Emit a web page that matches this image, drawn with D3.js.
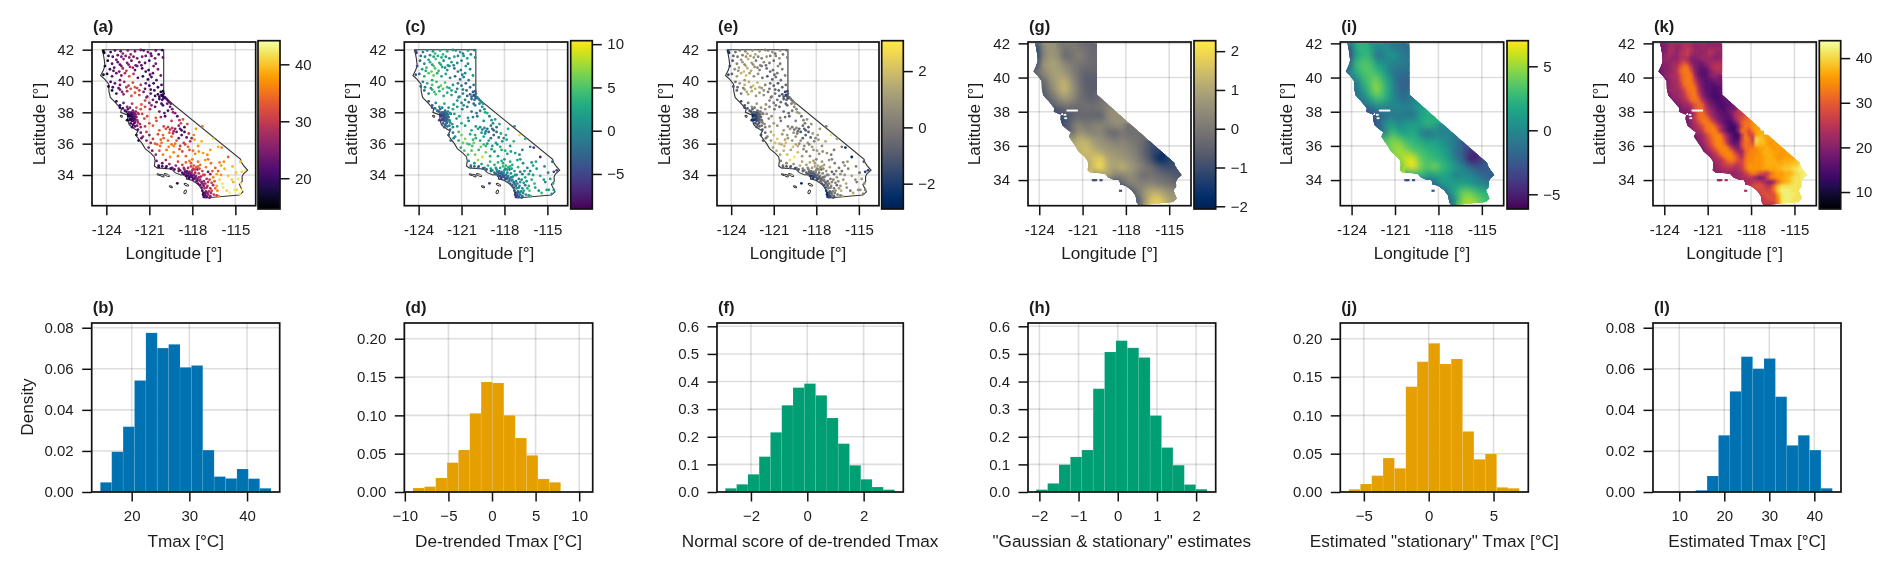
<!DOCTYPE html>
<html>
<head>
<meta charset="utf-8">
<script src="https://cdn.jsdelivr.net/npm/d3@7/dist/d3.min.js"></script>
<style>
html,body{margin:0;padding:0;background:#fff;}
svg{display:block;filter:blur(0.4px);}
text{font-family:"Liberation Sans",Arial,sans-serif;fill:#1c1c1c;}
</style>
</head>
<body>
<svg id="chart" width="1892" height="569"></svg>
<script>
// ---------- California outline (lon, lat) ----------
const outlineLon = [-124.3,-120,-120,-114.63,-114.6,-114.42,-114.14,-114.43,-114.53,-114.52,-114.72,-114.52,-114.47,-114.72,-117.12,-117.25,-117.28,-117.33,-117.6,-118.0,-118.25,-118.41,-118.4,-118.52,-118.8,-119.2,-119.45,-119.7,-120.47,-120.65,-120.6,-120.65,-120.9,-121.28,-121.5,-121.95,-121.8,-122.05,-122.4,-122.52,-122.5,-122.37,-122.1,-122.3,-122.4,-122.15,-122.45,-122.52,-123.0,-122.95,-123.4,-123.72,-123.82,-123.83,-124.1,-124.4,-124.2,-124.1,-124.15,-124.22,-124.3];
const outlineLat = [42,42,39,35,34.85,34.6,34.3,34.08,33.9,33.6,33.4,33.03,32.92,32.72,32.53,32.68,32.85,33.1,33.4,33.65,33.72,33.74,33.85,34.03,34.0,34.15,34.37,34.4,34.45,34.58,34.9,35.15,35.4,35.67,36.0,36.55,36.8,36.95,37.2,37.55,37.78,37.8,37.5,37.75,38.0,38.05,37.95,37.83,38.0,38.2,38.65,38.95,39.35,39.8,40.1,40.35,40.7,41.0,41.4,41.75,42];
const islandLon = [-120.37,-120.1,-119.78,-119.5,-118.42,-118.5,-122.95];
const islandLat = [34.03,33.96,34.0,33.25,33.38,32.92,37.75];
const islandRx = [0.1,0.14,0.2,0.12,0.17,0.08,0.08];
const islandRy = [0.04,0.06,0.06,0.05,0.06,0.12,0.05];

// ---------- Stations ----------
const stationLon = [
-124.2,-124.15,-123.7,-123.4,-123.0,-122.85,-122.5,-122.3,-122.0,-121.6,
-121.4,-121.1,-120.85,-120.55,-120.35,-120.1,-120.05,-120.6,-121.0,-121.5,
-123.9,-123.6,-123.3,-123.05,-122.8,-122.55,-122.25,-121.95,-121.7,-121.3,
-124.1,-123.75,-123.45,-123.1,-122.85,-122.6,-122.35,-122.0,-121.5,-120.7,
-121.05,-120.75,-120.4,-120.2,-123.95,-123.6,-123.3,-122.95,-122.7,-122.4,
-122.1,-121.8,-121.45,-121.1,-120.85,-120.5,-124.2,-123.7,-123.4,-123.05,
-122.75,-122.45,-122.15,-121.85,-121.6,-121.3,-121.0,-120.7,-120.4,-120.15,
-123.6,-123.3,-123.05,-122.8,-122.55,-122.25,-122.0,-121.7,-121.4,-121.15,
-120.9,-120.65,-120.4,-120.2,-120.1,-120.05,-120.0,-120.15,-120.02,-119.9,
-119.8,-119.7,-119.6,-119.5,-120.3,-120.5,-120.75,-121.0,-121.3,-121.55,
-123.3,-123.05,-122.8,-122.55,-122.2,-121.9,-121.6,-121.3,-120.95,-120.6,
-122.6,-122.5,-122.4,-122.3,-122.25,-122.2,-122.15,-122.1,-122.05,-122.0,
-122.45,-122.35,-122.2,-122.1,-122.0,-121.95,-121.9,-121.85,-121.8,-121.75,
-122.3,-122.15,-122.0,-122.55,-122.4,-122.15,-121.95,-122.05,-121.85,-121.65,
-121.8,-121.6,-121.9,-121.45,-121.2,-121.0,-120.75,-120.5,-120.2,-119.95,
-120.3,-119.9,-119.7,-119.4,-119.2,-119.05,-118.9,-118.8,-118.95,-118.65,
-120.0,-119.85,-119.7,-119.55,-119.4,-119.3,-119.2,-119.1,-119.6,-119.35,
-121.0,-120.75,-120.4,-120.2,-120.6,-120.9,-121.2,-121.05,-120.25,-120.0,
-119.7,-119.45,-119.2,-118.95,-118.75,-118.55,-118.4,-118.15,-118.6,-118.3,
-117.9,-117.6,-117.35,-116.95,-116.55,-116.2,-115.95,-115.5,-117.75,-117.3,
-120.3,-120.05,-119.8,-119.55,-119.3,-119.0,-118.7,-118.45,-120.55,-119.85,
-120.5,-120.35,-120.1,-119.8,-119.6,-119.4,-119.15,-118.95,-118.7,-118.45,
-118.85,-118.7,-118.55,-118.4,-118.3,-118.2,-118.1,-118.0,-117.9,-117.8,
-118.6,-118.45,-118.3,-118.2,-118.1,-118.0,-117.9,-117.85,-117.75,-117.7,
-117.65,-117.55,-117.45,-117.4,-117.3,-117.2,-117.15,-117.05,-117.0,-116.9,
-117.6,-117.5,-117.35,-117.3,-117.25,-117.2,-117.15,-117.1,-117.05,-116.95,
-117.2,-117.05,-116.9,-116.75,-116.65,-116.5,-116.4,-116.85,-116.55,-116.25,
-116.8,-116.55,-116.3,-116.1,-115.85,-115.6,-115.4,-115.15,-114.9,-114.55,
-116.4,-116.2,-116.0,-115.75,-115.5,-115.25,-114.95,-114.7,-114.35,-114.65,
-116.9,-117.8,-118.0,-118.2,-119.0,-119.3,-118.85,-120.05,-120.55,-119.05,
-123.85,-123.55,-123.2,-122.95,-122.65,-122.4,-122.1,-121.85,-121.25,-120.9,
-123.5,-123.2,-122.95,-122.45,-122.15,-121.85,-121.55,-121.25,-120.95,-120.55,
-123.85,-123.55,-123.15,-122.9,-122.6,-122.3,-122.0,-121.7,-121.25,-120.9,
-120.6,-120.3,-120.1,-120.0,-119.75,-119.55,-119.35,-121.2,-120.85,-120.15,
-123.05,-122.85,-122.7,-122.5,-122.35,-122.1,-121.8,-121.5,-121.35,-121.15,
-122.45,-122.28,-122.18,-122.08,-121.98,-122.38,-122.28,-122.22,-122.12,-122.02,
-121.6,-121.3,-121.55,-121.75,-122.2,-120.3,-120.05,-120.45,-120.8,-119.45,
-118.75,-118.55,-118.25,-118.05,-118.35,-118.85,-118.2,-117.95,-117.55,-117.25,
-120.35,-120.1,-119.85,-119.5,-119.25,-118.95,-118.6,-118.1,-117.6,-117.1,
-118.5,-118.38,-118.28,-118.15,-118.05,-117.95,-117.82,-117.72,-117.6,-117.5,
-118.25,-118.12,-118.02,-117.95,-117.8,-117.65,-117.55,-117.45,-117.35,-117.25,
-117.45,-117.35,-117.2,-117.1,-117.0,-116.9,-116.75,-116.65,-116.45,-116.3,
-117.25,-117.1,-117.0,-116.95,-116.8,-116.7,-116.3,-116.15,-116.6,-116.75,
-116.7,-116.1,-115.8,-115.2,-115.05,-114.8,-114.6,-114.55,-116.95,-116.0,
-118.9,-119.45,-119.1,-120.15,-119.65,-118.5,-117.85,-116.75,-115.9,-123.05];
const stationLat = [
41.9,41.8,41.85,41.95,41.9,41.75,41.95,41.7,41.9,41.98,
41.95,41.85,41.6,41.95,41.7,41.97,41.5,41.45,41.3,41.55,
41.3,41.1,41.35,41.05,41.4,41.15,41.3,41.0,41.2,41.15,
40.95,40.75,40.85,40.6,40.8,40.65,40.9,40.7,40.8,40.95,
40.7,40.5,40.75,40.35,40.45,40.3,40.5,40.35,40.5,40.3,
40.45,40.2,40.3,40.1,40.25,40.05,40.4,39.95,39.85,39.75,
39.95,39.7,39.9,39.55,39.75,39.5,39.7,39.85,39.6,39.75,
39.4,39.2,39.45,39.15,39.35,39.05,39.25,39.1,39.3,39.0,
39.2,39.4,39.15,39.3,39.05,39.35,39.2,39.1,39.0,38.95,
38.85,38.75,38.65,38.55,38.85,38.65,38.8,38.6,38.75,38.5,
38.7,38.45,38.6,38.35,38.55,38.3,38.2,38.35,38.2,38.35,
38.05,37.9,38.0,37.85,37.95,37.75,37.85,37.65,37.75,37.55,
37.75,37.6,37.45,37.45,37.4,37.85,37.7,37.5,37.35,37.9,
37.3,37.2,37.1,37.5,37.95,38.1,38.05,37.3,37.15,37.25,
36.9,36.7,36.55,36.45,36.75,37.3,37.15,37.45,37.7,37.95,
38.05,37.75,38.1,38.2,37.95,37.75,37.5,37.3,37.15,37.55,
37.1,36.95,37.05,36.9,37.0,36.8,36.95,36.75,36.7,36.65,
36.55,36.3,36.6,36.25,36.0,36.05,36.2,35.75,35.85,36.35,
36.2,36.45,36.0,36.35,36.55,36.75,36.4,36.15,36.05,35.8,
36.55,35.85,36.15,36.55,36.3,35.8,35.75,35.15,36.95,37.1,
35.55,35.3,35.6,35.15,35.45,35.2,35.5,35.2,35.3,34.95,
34.9,34.6,34.75,34.55,34.7,34.45,34.6,34.4,34.65,34.8,
34.3,34.15,34.35,34.1,34.45,34.2,34.55,34.3,34.6,34.15,
34.05,33.95,33.95,33.85,34.05,33.85,34.0,33.75,33.95,33.6,
34.35,34.1,34.65,33.9,34.25,33.6,34.0,34.5,33.75,34.2,
33.45,33.65,33.2,33.0,33.4,32.85,33.15,32.7,32.95,33.3,
32.6,32.65,32.75,32.65,33.0,32.75,33.15,32.95,33.35,33.0,
33.7,33.85,34.05,33.7,33.2,33.0,32.85,33.55,33.05,34.2,
34.45,34.25,34.0,34.4,33.95,33.7,34.15,32.8,34.3,34.85,
35.0,35.35,35.0,34.9,34.85,35.85,35.85,38.45,37.65,33.47,
41.6,41.55,41.65,41.55,41.6,41.5,41.55,41.45,41.6,41.75,
40.65,41.2,40.95,41.05,40.85,40.95,41.0,40.6,40.4,41.1,
39.65,39.6,39.55,39.3,39.6,39.5,39.6,39.4,39.85,39.45,
39.05,39.0,38.8,38.9,38.55,38.35,38.0,38.95,38.45,38.55,
38.3,38.25,38.1,38.2,38.3,38.0,37.95,37.9,37.6,37.75,
37.8,37.78,37.6,37.55,37.68,37.5,37.55,37.9,37.95,37.88,
37.05,37.1,36.35,36.2,37.05,36.85,36.55,35.95,35.55,37.45,
36.85,37.05,36.65,36.35,37.25,36.95,35.6,35.55,35.5,35.4,
34.5,34.55,34.45,34.42,34.35,34.25,34.45,34.75,34.85,34.95,
34.2,34.25,34.1,34.05,34.15,34.4,34.35,34.5,34.55,34.4,
33.8,33.95,33.95,33.72,33.85,33.75,33.85,33.7,33.55,34.0,
33.35,33.5,33.3,33.45,33.2,33.55,33.15,33.5,33.6,33.3,
32.75,32.85,32.6,32.85,32.55,32.85,32.7,32.65,34.25,34.05,
34.75,34.8,34.85,34.55,33.05,33.75,33.45,33.05,35.3,34.6,
35.65,35.95,36.2,36.05,35.8,35.95,36.25,35.6,33.45,40.05];
const stationTmax = [
16,16,20,22,23,26,24,27,25,23,
21,24,22,23,22,20,23,24,21,25,
18,22,23,21,26,25,22,23,24,22,
17,21,22,24,27,30,28,22,20,23,
19,22,25,24,18,22,23,25,28,32,
29,22,19,19,21,22,17,20,22,24,
26,30,32,31,29,22,20,19,20,21,
18,21,23,26,29,32,33,31,25,22,
23,21,19,18,19,18,20,17,19,21,
22,20,23,24,20,22,24,27,31,33,
19,20,24,26,30,32,33,31,28,22,
20,18,21,19,22,20,23,21,23,24,
18,19,20,22,24,27,26,27,28,29,
20,21,22,17,23,24,25,22,25,28,
22,24,20,26,30,32,33,32,27,23,
24,21,22,24,25,22,29,31,27,33,
31,32,30,28,31,27,25,23,33,29,
26,30,32,34,33,28,25,26,35,34,
34,33,35,24,21,20,22,28,30,34,
36,37,39,44,42,39,36,34,38,35,
33,36,35,37,36,35,32,34,27,28,
24,22,23,21,26,24,27,25,31,34,
23,21,26,22,28,24,31,27,33,28,
20,19,20,21,24,22,25,23,27,22,
26,30,35,28,31,26,30,36,29,24,
22,25,23,21,26,20,27,22,25,29,
21,23,27,26,31,30,34,29,28,36,
31,36,38,41,42,41,43,39,41,41,
34,33,37,39,40,41,40,42,43,40,
35,36,36,35,32,36,31,21,33,18,
20,22,23,24,25,26,24,24,23,22,
22,23,24,25,26,23,22,21,22,24,
18,21,23,26,29,32,33,30,23,21,
20,19,21,20,23,24,26,26,26,20,
19,20,21,23,25,28,29,31,31,32,
17,18,20,21,23,18,19,21,22,24,
28,30,23,19,20,33,34,34,24,30,
20,21,30,27,32,23,33,35,37,38,
20,20,21,20,22,23,27,33,35,37,
22,23,22,24,26,29,31,33,34,32,
20,22,22,21,23,24,27,28,25,31,
23,25,26,27,28,29,28,30,33,38,
20,23,22,26,24,28,30,36,33,26,
35,36,37,39,42,42,42,42,36,38,
33,35,33,35,36,31,38,38,42,24];
const stationDetrended = [
-5,-6,-1,0,1,4,2,4,3,1,
0,2,1,1,0,-1,1,2,-1,3,
-3,1,2,1,5,3,0,1,2,0,
-4,2,4,6,5,4,2,1,-1,1,
-1,0,1,1,-2,3,5,6,3,2,
2,-1,-3,-2,-1,-1,-4,-1,3,5,
4,6,5,2,1,-1,-2,-3,-2,-1,
-2,0,3,5,4,3,3,2,0,-1,
-1,-2,-3,-4,-3,-4,-2,-5,-3,-1,
0,-1,1,2,-3,-1,-1,0,1,2,
-4,-3,0,2,3,2,3,1,0,-2,
-4,-6,-3,-5,-3,-4,-2,-3,-2,-1,
-6,-5,-4,-3,-1,-1,-2,-1,0,0,
-4,-3,-2,-6,-2,-2,-1,-3,-1,1,
-3,-1,-4,1,4,3,2,0,-1,-2,
-1,-2,0,1,3,-1,1,0,-1,2,
1,2,0,-1,1,-1,-2,-3,2,0,
6,7,3,4,5,6,3,3,5,3,
3,2,1,-2,-3,-3,-2,1,2,3,
3,2,4,10,4,0,-6,-7,3,0,
5,6,4,9,6,3,1,2,4,8,
1,-1,1,-3,2,0,4,1,3,4,
0,-2,1,-3,3,-1,4,1,4,0,
-3,-5,-5,-4,-2,-3,-1,-3,0,-2,
-1,1,3,0,2,-1,1,4,0,-2,
-3,-1,-4,-5,-1,-7,0,-5,-2,1,
-6,-4,-1,-2,2,0,3,0,-1,5,
1,3,2,3,2,0,4,0,2,-5,
0,-1,2,1,3,2,-1,1,-5,-3,
1,2,1,3,4,4,2,-2,1,-6,
-2,0,1,2,3,3,1,1,0,-1,
2,3,5,2,1,0,-1,-1,-1,0,
-3,-1,1,4,3,5,4,2,-1,-2,
-2,-3,-2,-3,0,1,2,0,0,-2,
-4,-3,-3,-2,-1,0,1,2,1,2,
-6,-5,-4,-3,-2,-6,-5,-4,-3,-2,
1,2,0,-3,-3,3,3,4,5,1,
-3,-2,3,1,2,-2,3,3,2,2,
-2,-3,-2,-4,-3,-2,1,3,3,2,
-2,-1,-3,-2,0,1,2,3,4,2,
-5,-4,-3,-4,-3,-2,-1,0,-2,1,
-3,-1,-1,0,0,1,0,1,2,3,
-6,-3,-4,-1,-3,0,1,4,1,-1,
1,1,3,1,2,2,3,1,0,2,
2,4,2,6,6,1,3,0,4,3];
const stationNormalScore = [
-1.8,-2.2,-.4,0,.4,1.4,.7,1.4,1,.3,
0,.7,.3,.4,0,-.4,.3,.7,-.4,1,
-1.2,.3,.7,.3,1.7,1,0,.3,.7,0,
-1.6,.7,1.3,2,1.7,1.4,.7,.3,-.4,.4,
-.4,0,.4,.3,-.7,1,1.7,2,1,.7,
.7,-.4,-1.1,-.7,-.4,-.4,-1.5,-.4,1,1.7,
1.4,2,1.7,.7,.3,-.4,-.7,-1.1,-.7,-.4,
-.7,0,1,1.7,1.4,1,1,.7,0,-.4,
-.4,-.7,-1.1,-1.5,-1.1,-1.5,-.7,-1.8,-1.1,-.4,
0,-.4,.3,.7,-1,-.4,-.4,0,.3,.7,
-1.5,-1,0,.7,1,.7,1,.3,0,-.7,
-1.5,-2.1,-1.1,-1.8,-1,-1.5,-.7,-1.1,-.7,-.4,
-2.2,-1.8,-1.5,-1,-.4,-.4,-.7,-.4,0,0,
-1.5,-1,-.7,-2.3,-.7,-.7,-.4,-1,-.3,.3,
-1,-.4,-1.5,.3,1.3,1,.7,0,-.4,-.7,
-.4,-.7,0,.3,1,-.4,.3,0,-.4,.7,
.3,.7,0,-.4,.3,-.4,-.7,-1,.7,0,
2,2.4,1,1.4,1.7,2,1,1,1.7,1,
1,.7,.3,-.7,-1,-1,-.7,.3,.7,1,
1,.7,1.4,3,1.4,0,-2.2,-2.6,1,0,
1.7,2,1.4,2.9,2,1,.3,.7,1.4,2.7,
.3,-.4,.3,-1,.7,0,1.4,.3,1,1.4,
0,-.7,.3,-1,1,-.4,1.4,.3,1.4,0,
-1,-1.9,-1.9,-1.5,-.7,-1,-.4,-1,0,-.7,
-.4,.3,1,0,.7,-.4,.3,1.4,0,-.7,
-1.1,-.4,-1.5,-1.9,-.4,-2.6,0,-1.9,-.7,.3,
-2.2,-1.5,-.4,-.7,.7,0,1,0,-.4,1.7,
.3,1,.7,1,.7,0,1.4,0,.7,-2,
0,-.4,.7,.3,1,.7,-.4,.3,-2,-1,
.3,.7,.3,1,1.4,1.4,.7,-.7,.3,-2.5,
-.7,0,.3,.7,1,1,.3,.3,0,-.4,
.7,1,1.7,.7,.3,0,-.4,-.4,-.4,0,
-1.1,-.4,.3,1.4,1,1.7,1.4,.7,-.4,-.7,
-.7,-1.1,-.7,-1.1,0,.3,.7,0,0,-.7,
-1.5,-1,-1.1,-.7,-.4,0,.3,.7,.3,.7,
-2.3,-1.9,-1.5,-1,-.7,-2.2,-1.9,-1.5,-1,-.7,
.3,.7,0,-1,-1,1,1,1.4,1.7,.3,
-1,-.7,1,.3,.7,-.7,1,1,.7,.7,
-.7,-1,-.7,-1.5,-1,-.7,.3,1,1,.7,
-.7,-.4,-1,-.7,0,.3,.7,1,1.4,.7,
-1.9,-1.5,-1,-1.5,-1,-.7,-.4,0,-.7,.3,
-1,-.4,-.4,0,0,.3,0,.3,.7,1,
-2.3,-1,-1.5,-.4,-1,0,.3,1.4,.3,-.4,
.3,.3,1,.3,.7,.7,1,.3,0,.7,
.7,1.4,.7,2,2,.3,1,0,1.4,1];

// ---------- Coarse estimate grids, 0.5 degree (panels g, i) ----------
const coarseLat = [41.75,41.25,40.75,40.25,39.75,39.25,38.75,38.25,37.75,37.25,36.75,36.25,35.75,35.25,34.75,34.25,33.75,33.25,32.75];
const coarseStartLon = [-124.25,-124.25,-124.25,-124.25,-123.75,-123.75,-123.25,-122.75,-122.75,-122.25,-121.75,-121.75,-121.25,-120.75,-120.75,-119.75,-118.75,-117.75,-117.25];
const gaussianGrid = [
[-1.5,.3,.7,.5,-.1,.1,-.1,-.2,-.4],
[-1.7,.2,.7,.6,-.4,-.2,.3,-.1,-.3],
[-1.2,.6,.9,.9,.4,.1,-.1,-.2,-.3],
[-.4,.3,.7,.9,.7,.3,-.2,-.5,-.4],
[-.6,.5,.9,1.3,.6,-.1,-.6,-.6],
[-.7,.1,.8,1.4,.7,0,-.5,-.6],
[-.5,.3,.7,.5,-.1,-.4,-.5,-.2],
[-.6,-.2,-.3,-.3,-.1,-.2,0,.2],
[-1,-.9,-.6,-.4,-.4,-.4,-.6,.4,.6],
[-1,-.2,.3,-.1,.2,.3,.2,.6,.5],
[-.5,.7,.4,.2,.4,-.2,-.5,0,-.3,-.1],
[.8,1.3,1.3,.8,.6,.4,.2,.3,.1,-.1,-.3],
[1.2,1.5,1.2,.8,.7,.6,.5,.3,.1,-.5,-.9,-1.1],
[1.2,1.5,1.8,1,.8,.7,.5,.2,-.3,-.9,-1.9,-1.7,-1],
[.8,1.5,2.2,1.2,.9,1.3,.8,.5,.1,-.2,-.7,-1,-1,-.8],
[.5,.9,.3,.2,.5,.2,-.3,-.1,-.2,-.4,-.6,-.8],
[-1,-.5,.2,.3,.2,.4,.1,0,-.2,-.4],
[-1.2,-.1,.6,1.2,1.2,.8,.5],
[-1,.4,1.6,1.9,1.3,.8]];
const stationaryGrid = [
[-4,1.5,2.5,2,0,.5,-.5,-1,-1.5],
[-4.5,1,2.5,2.5,-1.5,-.5,1,0,-1],
[-3.5,2.5,3.5,3.5,1.5,.5,-.5,-.5,-1],
[-1,1.5,3,3.5,3,1.5,-.5,-1.5,-1.5],
[-1.5,2,3.5,4.5,2.5,.5,-2,-2],
[-1.5,.5,3,5,3,.5,-1.5,-2],
[-1,1.5,3,2.5,.5,-1,-1.5,-.5],
[-1.5,0,-.5,-.5,.3,-.5,.2,.8],
[-3,-2.5,-1.5,-.7,-1,-1,-1.5,1.5,2],
[-3,0,1.5,0,1,1.5,1,2.5,2],
[-1.5,3,1.7,1,2,0,-1.5,-.5,-.5,0],
[3,4.5,4.5,3,2.5,2,1,1.5,.7,-.2,-1],
[4,5.5,4.5,3.3,3,2.5,2,1.5,.5,-1.5,-2.5,-3.5],
[4.5,6,6.5,3.8,3,2.5,2,1,-1,-2.5,-5.5,-4.8,-2.5],
[3,5.5,7,4.5,3.2,4.5,2.8,2,.8,-.5,-1.8,-2.8,-2.5,-2],
[1.5,2.5,1.2,1,1.8,1,-.5,.2,0,-1,-2,-2.5],
[-3,-1.5,.8,1.3,1.2,1.5,.6,.3,-.5,-1],
[-3.5,0,2.2,4.2,4,2.8,2.2],
[-3,1.5,5,5.5,4.5,3]];

// ---------- Fine estimate grid, 0.25 degree (panel k) ----------
const fineLat = [41.875,41.625,41.375,41.125,40.875,40.625,40.375,40.125,39.875,39.625,39.375,39.125,38.875,38.625,38.375,38.125,37.875,37.625,37.375,37.125,36.875,36.625,36.375,36.125,35.875,35.625,35.375,35.125,34.875,34.625,34.375,34.125,33.875,33.625,33.375,33.125,32.875,32.625];
const fineStartLon = [-124.375,-124.375,-124.375,-124.375,-124.375,-124.375,-124.375,-124.375,-124.125,-123.875,-123.875,-123.875,-123.625,-123.375,-123.125,-122.875,-122.625,-122.625,-122.375,-122.375,-122.125,-121.875,-121.875,-121.625,-121.375,-121.125,-120.875,-120.625,-120.625,-120.625,-120.625,-119.375,-118.625,-118.375,-117.875,-117.625,-117.375,-117.375];
const tmaxGrid = [
[18,19,20,22,23,22,22,24,24,23,21,21,22,22,21,21,21,21],
[18,19,20,23,23,21,22,24,26,24,22,21,22,21,23,23,22,22],
[18,19,21,23,22,21,24,25,26,23,21,21,21,22,24,23,21,21],
[18,20,22,22,21,21,23,24,24,20,20,21,22,22,22,21,20,21],
[18,20,21,21,22,22,25,28,25,21,19,19,19,21,22,23,23,23],
[18,20,20,21,23,24,29,32,32,25,20,18,17,18,21,24,25,25],
[17,19,20,21,22,25,31,33,33,28,21,17,16,16,19,22,24,24],
[18,19,21,22,23,24,29,32,33,32,23,18,16,16,19,21,21],
[19,19,21,23,23,28,32,33,32,26,20,17,16,17,18,19,19],
[20,21,22,23,26,32,33,33,29,22,18,16,16,16,17,18],
[20,21,22,23,25,29,32,33,32,24,19,16,16,15,15,16],
[20,21,22,22,23,26,31,32,33,26,20,17,16,15,15,16],
[19,21,22,23,25,29,32,33,29,22,18,16,15,14,15,17],
[19,21,22,23,26,31,32,32,26,21,18,16,15,15,16,17],
[19,20,22,22,24,29,31,31,24,20,18,16,15,15,16,17],
[19,20,21,23,29,31,31,26,22,20,17,16,15,17,18,19],
[19,19,20,25,31,32,29,24,21,19,17,16,16,19,23,25,26],
[18,20,22,26,31,32,32,28,23,20,18,17,16,17,22,26,28,30],
[19,21,24,28,32,33,32,28,23,19,17,15,15,18,23,30,32,32],
[19,21,23,25,28,32,33,33,29,24,19,16,14,14,19,28,33,32,35],
[20,22,23,26,31,33,34,32,25,20,16,14,13,20,32,32,28,33,36],
[20,21,23,26,30,33,34,33,27,21,17,14,14,25,33,28,27,36,37],
[18,20,22,25,29,32,34,34,30,23,18,15,15,26,33,32,25,41,39,38,36,36],
[19,21,24,27,31,34,34,32,25,19,17,18,28,32,31,29,40,38,38,36,35,36],
[19,22,25,28,32,34,34,33,26,21,19,26,32,32,33,35,36,36,37,36,35,36,36],
[20,22,25,28,33,34,34,33,27,23,21,30,33,34,34,35,37,37,37,36,36,35,36],
[20,23,25,28,32,34,34,32,27,24,31,34,34,35,35,36,37,37,36,35,35,36,36,36],
[21,23,24,27,31,33,31,28,27,32,34,34,35,35,36,37,37,37,36,36,37,37,37,38,39],
[21,22,24,26,27,28,26,25,27,32,35,35,35,35,36,37,37,37,37,37,38,38,39,39,41],
[21,21,22,23,24,24,23,24,26,31,35,35,35,35,36,36,37,36,37,38,39,39,40,41,42,42],
[20,21,21,22,22,21,21,22,24,26,30,33,32,29,27,26,31,35,36,35,37,37,38,40,41,42,42],
[22,22,22,23,24,25,24,21,18,20,27,33,34,35,36,37,38,40,41,41,42,42],
[22,22,23,25,26,26,24,21,19,23,31,35,37,38,40,41,41,42],
[24,25,27,29,29,27,25,26,33,38,41,41,41,41,41,41],
[24,26,28,28,27,28,33,40,42,42,42,41,41,41],
[24,26,28,29,28,29,36,41,42,42,42,41,41],
[24,26,28,29,29,34,41,42,42,41,41,41],
[25,26,26,26,27,33,41,42,42,42,41]];

// ---------- Small raster islands / holes ----------
const islandCellLon = [-120.25,-120.1,-119.72,-118.37];
const islandCellLat = [34.0,34.0,34.0,33.38];
const islandCellGaussian = [-.9,-.9,-.9,-.8];
const islandCellStationary = [-3,-3,-3,-2.5];
const islandCellTmax = [22,22,24,24];
const holeLon = [-122.02,-121.88,-121.72,-121.58,-121.42,-122.22,-122.17];
const holeLat = [38.07,38.07,38.07,38.07,38.07,37.82,37.62];

// ---------- Histograms ----------
const histTmax = [.0047,.0196,.0318,.0543,.0775,.0701,.0719,.0607,.0616,.0204,.0075,.0066,.0112,.0065,.0018];
const histDetrended = [.0052,.007,.0183,.0383,.0548,.1026,.1435,.1422,.1,.0704,.0478,.017,.0126];
const histNormalScore = [.0133,.0278,.064,.128,.216,.314,.378,.3925,.35,.268,.175,.0966,.046,.018,.0085];
const histGaussian = [.0085,.031,.099,.127,.152,.374,.507,.548,.522,.487,.277,.161,.097,.027,.01];
const histStationary = [.0035,.0104,.0213,.0443,.0309,.1374,.17,.194,.167,.1735,.079,.0426,.0496,.006,.0048];
const histEstimated = [.0008,.0078,.0276,.049,.0659,.06,.065,.0464,.0227,.0276,.0204,.0018];

// ---------- Tick labels ----------
const mapLonTicks = [-124,-121,-118,-115];
const mapLatTicks = [34,36,38,40,42];
const cbTicksTmax = [20,30,40];
const cbTicksDetr = [-5,0,5,10];
const cbTicksNs = [-2,0,2];
const cbTicksGauss = [-2,-1,0,1,2];
const cbTicksStat = [-5,0,5];
const cbTicksEst = [10,20,30,40];

// ---------- Colours ----------
const BLUE = "#0072B2", ORANGE = "#E69F00", GREEN = "#009E73";

// ---------- Layout ----------
const mapTop = 42, mapBottom = 205.7, cbTop = 40.7, cbBottom = 209;
const histTop = 323, histBottom = 492;
const fontTick = 15, fontLabel = 17.2, fontTitle = 16.6;
const tickLen = 9.5;
const SPINE = "#111";

const svg = d3.select("#chart");
const defs = svg.append("defs");
const blur = (id, sd) => defs.append("filter").attr("id", id)
  .attr("filterUnits","userSpaceOnUse").attr("x",0).attr("y",0).attr("width",1892).attr("height",569)
  .attr("color-interpolation-filters","sRGB")
  .append("feGaussianBlur").attr("stdDeviation", sd);
blur("blurCoarse", "3.1 3.7");
blur("blurFine", "1.3 1.5");

function styleAxis(g){
  g.select(".domain").remove();
  g.selectAll(".tick line").attr("stroke", SPINE).attr("stroke-width",1.5);
  g.selectAll(".tick text").attr("font-size",fontTick).attr("fill","#1c1c1c")
    .attr("font-family",'"Liberation Sans",Arial,sans-serif');
}
const minus = s => String(s).replace("-", "\u2212");

function frame(g, x0, y0, x1, y1){
  g.append("rect").attr("x",x0).attr("y",y0).attr("width",x1-x0).attr("height",y1-y0)
   .attr("fill","none").attr("stroke",SPINE).attr("stroke-width",1.7);
}
function title(g, txt, x, y){
  g.append("text").attr("x",x).attr("y",y).attr("font-size",fontTitle).attr("font-weight","bold").text(txt);
}
function grid(g, xScale, yScale, xt, yt){
  const [x0,x1] = xScale.range(), [y1,y0] = yScale.range();
  g.selectAll(null).data(xt).join("line").attr("x1",xScale).attr("x2",xScale).attr("y1",y0).attr("y2",y1)
    .attr("stroke","rgba(0,0,0,0.13)").attr("stroke-width",1.6);
  g.selectAll(null).data(yt).join("line").attr("y1",yScale).attr("y2",yScale).attr("x1",x0).attr("x2",x1)
    .attr("stroke","rgba(0,0,0,0.13)").attr("stroke-width",1.6);
}
function axes(g, xScale, yScale, xt, yt, xf, yf, yBase){
  const [x0] = xScale.range();
  g.append("g").attr("transform",`translate(0,${yBase})`)
    .call(d3.axisBottom(xScale).tickValues(xt).tickFormat(xf).tickSize(tickLen).tickPadding(9)).call(styleAxis);
  g.append("g").attr("transform",`translate(${x0},0)`)
    .call(d3.axisLeft(yScale).tickValues(yt).tickFormat(yf).tickSize(tickLen).tickPadding(8.5)).call(styleAxis);
}
function colorbar(parent, id, x0, x1, interp, domain, ticks){
  const yc = d3.scaleLinear().domain(domain).range([cbBottom, cbTop]);
  const color = d3.scaleSequential(interp).domain(domain);
  const grad = defs.append("linearGradient").attr("id",id).attr("x1",0).attr("x2",0).attr("y1",1).attr("y2",0);
  grad.selectAll("stop").data(d3.range(0,1.0001,0.02)).join("stop")
    .attr("offset",d=>d).attr("stop-color",d=>color(domain[0]+d*(domain[1]-domain[0])));
  parent.append("rect").attr("x",x0).attr("y",cbTop).attr("width",x1-x0).attr("height",cbBottom-cbTop)
    .attr("fill",`url(#${id})`);
  parent.append("g").attr("transform",`translate(${x1},0)`)
    .call(d3.axisRight(yc).tickValues(ticks).tickFormat(d=>minus(d)).tickSize(tickLen).tickPadding(5.5)).call(styleAxis);
  frame(parent,x0,cbTop,x1,cbBottom);
  return color;
}
function axisLabels(g, cx, xLab, yLab, xBase, yLabX, yCenter){
  g.append("text").attr("x",cx).attr("y",xBase).attr("text-anchor","middle").attr("font-size",fontLabel).text(xLab);
  if(yLab) g.append("text").attr("transform",`translate(${yLabX},${yCenter}) rotate(-90)`)
    .attr("text-anchor","middle").attr("font-size",fontLabel).text(yLab);
}

// ---------- Station map panels ----------
const pointPanels = [
 {tag:"(a)", left:92,   right:255.7, cb:[258,280],     interp:d3.interpolateInferno, dom:[14.6,44.15], ticks:cbTicksTmax,  vals:stationTmax},
 {tag:"(c)", left:404.3,right:567.7, cb:[570.7,592.3], interp:d3.interpolateViridis, dom:[-9.05,10.4], ticks:cbTicksDetr,  vals:stationDetrended},
 {tag:"(e)", left:717,  right:879,   cb:[881.7,903.3], interp:d3.interpolateCividis, dom:[-2.9,3.08],  ticks:cbTicksNs,    vals:stationNormalScore}
];
pointPanels.forEach((p,pi)=>{
  const g = svg.append("g");
  const x = d3.scaleLinear().domain([-125,-113.58]).range([p.left,p.right]);
  const y = d3.scaleLinear().domain([32.04,42.49]).range([mapBottom,mapTop]);
  grid(g,x,y,mapLonTicks,mapLatTicks);
  const line = d3.line().x((d,i)=>x(outlineLon[i])).y((d,i)=>y(outlineLat[i]));
  g.append("path").attr("d",line(outlineLon)).attr("fill","none").attr("stroke","#333").attr("stroke-width",1.1);
  g.selectAll("ellipse").data(islandLon).join("ellipse")
    .attr("cx",d=>x(d)).attr("cy",(d,i)=>y(islandLat[i]))
    .attr("rx",(d,i)=>Math.abs(x(islandRx[i])-x(0))).attr("ry",(d,i)=>Math.abs(y(islandRy[i])-y(0)))
    .attr("transform",(d,i)=>`rotate(25 ${x(d)} ${y(islandLat[i])})`)
    .attr("fill","none").attr("stroke","#333").attr("stroke-width",1);
  const color = d3.scaleSequential(p.interp).domain(p.dom);
  g.selectAll("circle").data(stationLon).join("circle")
    .attr("cx",d=>x(d)).attr("cy",(d,i)=>y(stationLat[i])).attr("r",1.4)
    .attr("fill",(d,i)=>color(p.vals[i]));
  frame(g,p.left,mapTop,p.right,mapBottom);
  axes(g,x,y,mapLonTicks,mapLatTicks,d=>String(d),d=>d,mapBottom);
  colorbar(g,"cb"+pi,p.cb[0],p.cb[1],p.interp,p.dom,p.ticks);
  axisLabels(g,(p.left+p.right)/2,"Longitude [\u00b0]","Latitude [\u00b0]",259.3,p.left-47,124);
  title(g,p.tag,p.left+1,31.7);
});

// ---------- Raster map panels ----------
const rasterPanels = [
 {tag:"(g)", left:1028,  right:1191,   cb:[1194,1215.7],   interp:d3.interpolateCividis, dom:[-2.07,2.27], ticks:cbTicksGauss, rows:gaussianGrid,  lats:coarseLat, starts:coarseStartLon, step:.5,  filt:"blurCoarse", isl:islandCellGaussian},
 {tag:"(i)", left:1340.3,right:1503.7, cb:[1507,1528.3],   interp:d3.interpolateViridis, dom:[-6.15,7.0],  ticks:cbTicksStat,  rows:stationaryGrid,lats:coarseLat, starts:coarseStartLon, step:.5,  filt:"blurCoarse", isl:islandCellStationary},
 {tag:"(k)", left:1653,  right:1816.3, cb:[1819.3,1840.7], interp:d3.interpolateInferno, dom:[6.2,43.9],   ticks:cbTicksEst,   rows:tmaxGrid,      lats:fineLat,   starts:fineStartLon,   step:.25, filt:"blurFine",   isl:islandCellTmax}
];
rasterPanels.forEach((p,pi)=>{
  const g = svg.append("g");
  const x = d3.scaleLinear().domain([-124.78,-113.49]).range([p.left,p.right]);
  const y = d3.scaleLinear().domain([32.5,42.08]).range([mapBottom,mapTop]);
  grid(g,x,y,mapLonTicks,mapLatTicks);
  const color = d3.scaleSequential(p.interp).domain(p.dom);
  const clipId = "clipCA"+pi;
  const line = d3.line().x((d,i)=>x(outlineLon[i])).y((d,i)=>y(outlineLat[i]));
  defs.append("clipPath").attr("id",clipId).append("path").attr("d",line(outlineLon));
  const cells = [];
  p.rows.forEach((row,r)=>row.forEach((v,c)=>cells.push({lon:p.starts[r]+c*p.step,lat:p.lats[r],v})));
  const clipped = g.append("g").attr("clip-path",`url(#${clipId})`);
  const draw = (layer,scale) => layer.selectAll("rect").data(cells).join("rect")
    .attr("x",d=>x(d.lon-p.step*scale/2)).attr("y",d=>y(d.lat+p.step*scale/2))
    .attr("width",d=>x(d.lon+p.step*scale/2)-x(d.lon-p.step*scale/2))
    .attr("height",d=>y(d.lat-p.step*scale/2)-y(d.lat+p.step*scale/2))
    .attr("fill",d=>color(d.v));
  draw(clipped.append("g"),2.2);
  draw(clipped.append("g").attr("filter",`url(#${p.filt})`),1.03);
  g.selectAll("rect.hole").data(holeLon).join("rect").attr("class","hole")
    .attr("x",d=>x(d)-1.4).attr("y",(d,i)=>y(holeLat[i])-0.9).attr("width",2.8).attr("height",1.8).attr("fill","#fff");
  g.selectAll("rect.isl").data(islandCellLon).join("rect").attr("class","isl")
    .attr("x",d=>x(d)-1.6).attr("y",(d,i)=>y(islandCellLat[i])-1).attr("width",3.2).attr("height",2.2)
    .attr("fill",(d,i)=>color(p.isl[i]));
  frame(g,p.left,mapTop,p.right,mapBottom);
  axes(g,x,y,mapLonTicks,mapLatTicks,d=>String(d),d=>d,mapBottom);
  colorbar(g,"cbr"+pi,p.cb[0],p.cb[1],p.interp,p.dom,p.ticks);
  axisLabels(g,(p.left+p.right)/2,"Longitude [\u00b0]","Latitude [\u00b0]",259.3,p.left-48,124);
  title(g,p.tag,p.left+1,31.7);
});

// ---------- Histogram panels ----------
const histPanels = [
 {tag:"(b)",left:91.7,  right:279.7, xd:[13.07,45.66],  yd:[0,.0823],vals:histTmax,       bin:[14.57,44.16],fill:BLUE,  xt:[20,30,40],      yt:[0,.02,.04,.06,.08], yf:".2f", xl:"Tmax [\u00b0C]", yl:"Density"},
 {tag:"(d)",left:404.3, right:592.7, xd:[-10.06,11.55], yd:[0,.2205],vals:histDetrended,  bin:[-9.06,7.87], fill:ORANGE,xt:[-10,-5,0,5,10], yt:[0,.05,.1,.15,.2],   yf:".2f", xl:"De-trended Tmax [\u00b0C]"},
 {tag:"(f)",left:717,   right:903.3, xd:[-3.205,3.408], yd:[0,.612], vals:histNormalScore,bin:[-2.91,3.10], fill:GREEN, xt:[-2,0,2],        yt:[0,.1,.2,.3,.4,.5,.6],yf:".1f",xl:"Normal score of de-trended Tmax"},
 {tag:"(h)",left:1028,  right:1215.7,xd:[-2.29,2.50],   yd:[0,.612], vals:histGaussian,   bin:[-2.08,2.28], fill:GREEN, xt:[-2,-1,0,1,2],   yt:[0,.1,.2,.3,.4,.5,.6],yf:".1f",xl:"\"Gaussian & stationary\" estimates"},
 {tag:"(j)",left:1340.3,right:1528.3,xd:[-6.816,7.68],  yd:[0,.2205],vals:histStationary, bin:[-6.145,6.99],fill:ORANGE,xt:[-5,0,5],        yt:[0,.05,.1,.15,.2],   yf:".2f", xl:"Estimated \"stationary\" Tmax [\u00b0C]"},
 {tag:"(l)",left:1653,  right:1841,  xd:[4.16,45.93],   yd:[0,.0823],vals:histEstimated,  bin:[13.65,44.0], fill:BLUE,  xt:[10,20,30,40],   yt:[0,.02,.04,.06,.08], yf:".2f", xl:"Estimated Tmax [\u00b0C]"}
];
histPanels.forEach(p=>{
  const g = svg.append("g");
  const x = d3.scaleLinear().domain(p.xd).range([p.left,p.right]);
  const y = d3.scaleLinear().domain(p.yd).range([histBottom,histTop]);
  grid(g,x,y,p.xt,p.yt);
  const edge = d3.scaleLinear().domain([0,p.vals.length]).range(p.bin);
  g.selectAll("rect.bar").data(p.vals).join("rect").attr("class","bar")
    .attr("x",(d,i)=>x(edge(i))).attr("width",(d,i)=>x(edge(i+1))-x(edge(i)))
    .attr("y",d=>y(d)).attr("height",d=>y(0)-y(d))
    .attr("fill",p.fill).attr("stroke","rgba(255,255,255,0.08)").attr("stroke-width",1);
  frame(g,p.left,histTop,p.right,histBottom);
  axes(g,x,y,p.xt,p.yt,d=>minus(d3.format("d")(d)),d=>d3.format(p.yf)(d),histBottom);
  axisLabels(g,(p.left+p.right)/2,p.xl,p.yl,546.7,33,407);
  title(g,p.tag,p.left+1,313);
});
</script>
</body>
</html>
